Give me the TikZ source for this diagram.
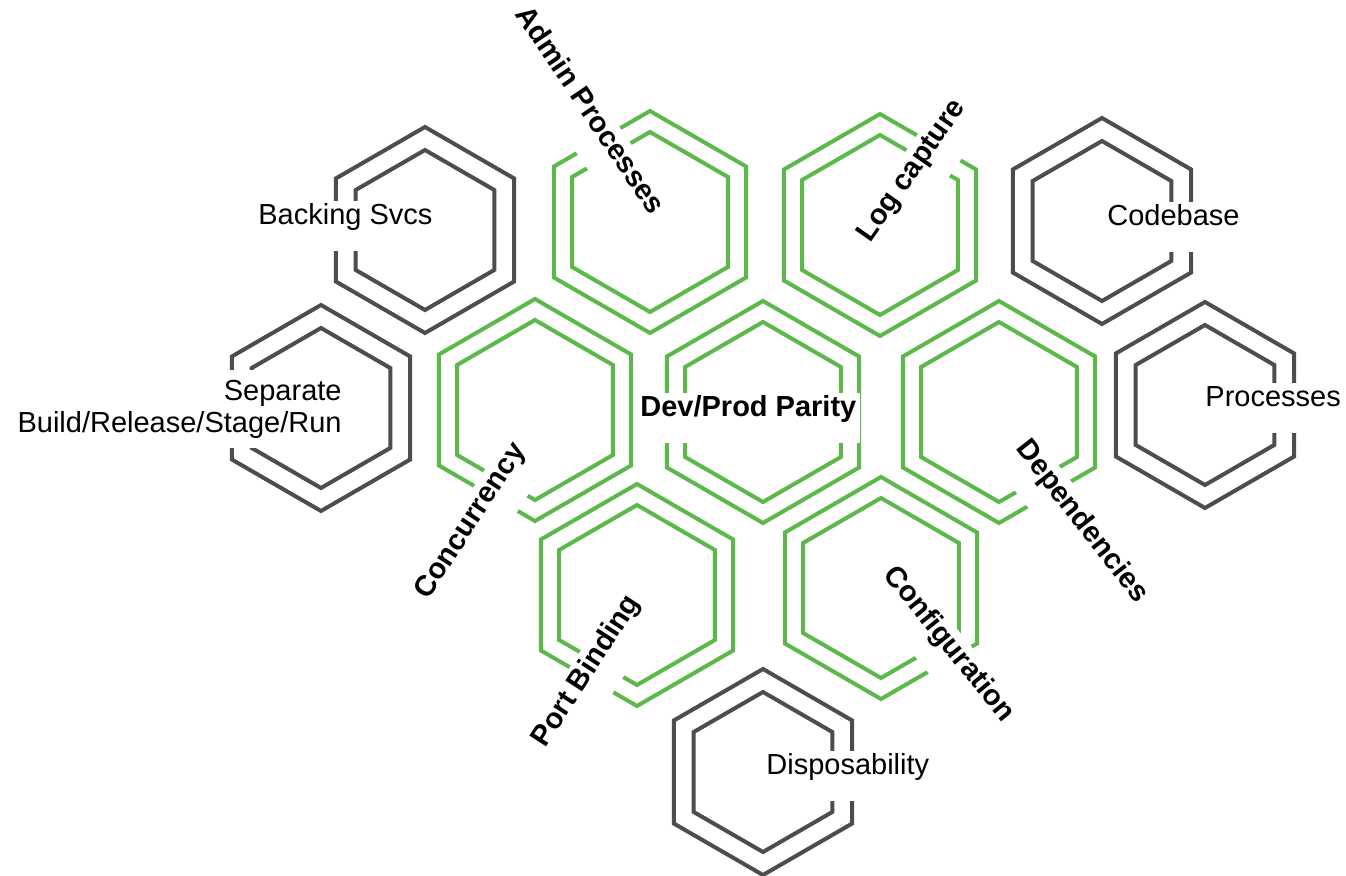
\documentclass[tikz,border=0pt]{standalone}
\usepackage{fontspec}
\setmainfont{Liberation Sans}
\definecolor{hexgreen}{RGB}{92,184,74}
\definecolor{hexgray}{RGB}{77,77,80}
\begin{document}
\begin{tikzpicture}[x=0.5pt,y=-0.5pt,
  hexline/.style={line width=2pt, line join=miter},
  lbl/.style={fill=white, inner xsep=2pt, inner ysep=2pt, text height=10pt, text depth=11pt,
    font=\fontsize{14.5pt}{16pt}\selectfont},
  blbl/.style={lbl, font=\fontsize{14.5pt}{16pt}\selectfont\bfseries}]
\useasboundingbox (0,0) rectangle (1346,876);
\foreach \n/\cx/\cy/\ro/\ri/\col in {
  devprod/763/412/111/90/hexgreen,
  admin/650/222/111/90/hexgreen,
  logcap/880/225/111/90/hexgreen,
  concur/535/410/111/90/hexgreen,
  depend/999/412/111/90/hexgreen,
  portb/637/595/111/90/hexgreen,
  config/881/588/111/90/hexgreen,
  backing/425/230/103/80/hexgray,
  codebase/1102/221/103/80/hexgray,
  separate/321/408/103/80/hexgray,
  processes/1205/405/103/80/hexgray,
  dispos/763/772/103/80/hexgray}
{
  \coordinate (\n) at (\cx,\cy);
  \foreach \r in {\ro,\ri}
    \draw[hexline, draw=\col, shift={(\n)}] (0,-\r) -- ({0.866*\r},{-0.5*\r}) -- ({0.866*\r},{0.5*\r})
      -- (0,\r) -- ({-0.866*\r},{0.5*\r}) -- ({-0.866*\r},{-0.5*\r}) -- cycle;
}
% labels of the grey hexagons
\node[lbl, anchor=base west] (l-backing) at (254,225) {Backing Svcs};
\node[lbl, anchor=base west] (l-codebase) at (1103,226) {Codebase};
\node[lbl, anchor=base west] (l-processes) at (1201,407) {Processes};
\node[lbl, anchor=base west] (l-dispos) at (762,775) {Disposability};
\node[fill=white, inner xsep=2pt, inner ysep=5pt, align=right,
  font=\fontsize{14.5pt}{16pt}\selectfont, anchor=east] (l-separate) at (346,409)
  {Separate\\Build/Release/Stage/Run};
% labels of the green hexagons
\node[blbl, anchor=base west] (l-devprod) at (636,417) {Dev/Prod Parity\hspace{33pt}};
\node[blbl, rotate=-56] (l-admin) at (582,116) {Admin Processes};
\node[blbl, rotate=55] (l-logcap) at (919,176) {Log capture};
\node[blbl, rotate=57] (l-concur) at (478,526) {Concurrency};
\node[blbl, rotate=57] (l-portb) at (594,676) {Port Binding};
\node[blbl, rotate=-51] (l-config) at (942,650) {Configuration};
\node[blbl, rotate=-52] (l-depend) at (1075,527) {Dependencies};
\end{tikzpicture}
\end{document}
